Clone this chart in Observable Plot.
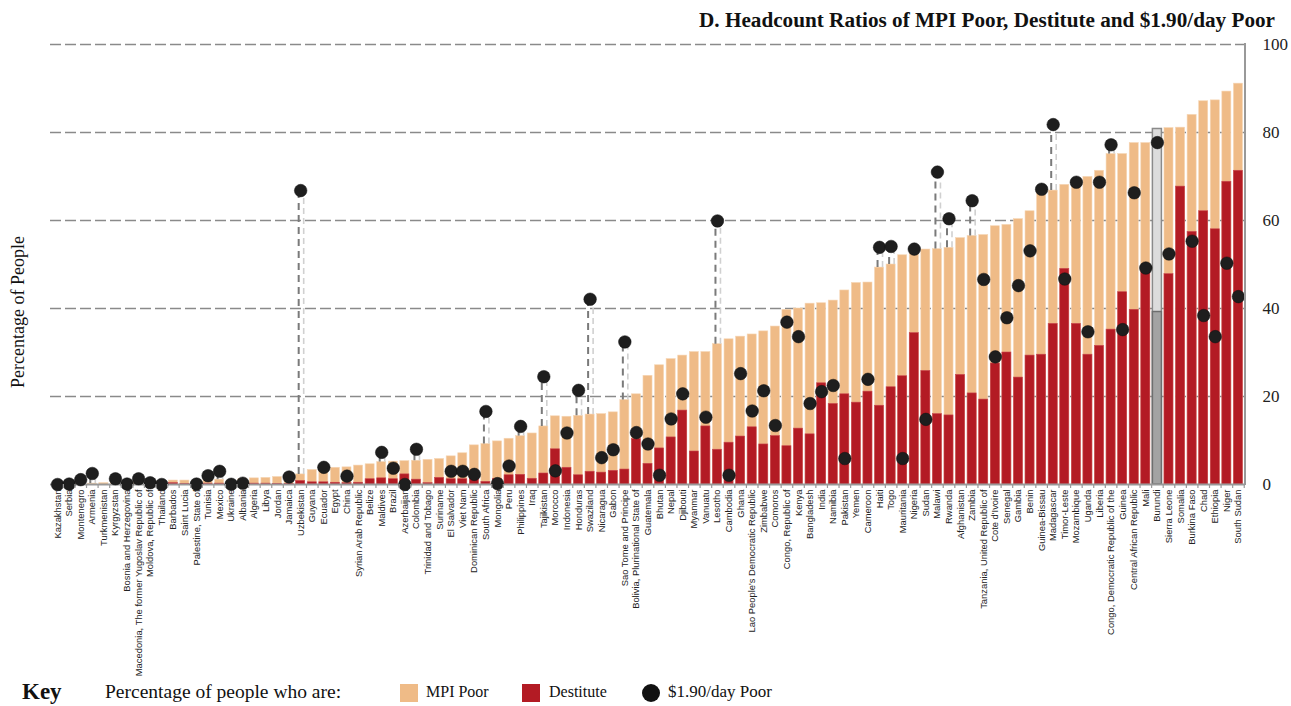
<!DOCTYPE html>
<html>
<head>
<meta charset="utf-8">
<script src="https://cdn.jsdelivr.net/npm/d3@7"></script>
<script src="https://cdn.jsdelivr.net/npm/@observablehq/plot@0.6"></script>
<style>
  html, body { margin: 0; padding: 0; background: #fff; }
  #wrap { position: relative; width: 1291px; height: 706px; overflow: hidden; font-family: "Liberation Serif", "Times New Roman", serif; color: #111; }
  #chart { position: absolute; left: 0; top: 0; }
  #title { position: absolute; right: 16px; top: 8px; font-size: 21.2px; font-weight: bold; white-space: nowrap; }
  #ylab { position: absolute; left: 18px; top: 312px; font-size: 18px; white-space: nowrap; transform: translate(-50%, -50%) rotate(-90deg); }
  #key { position: absolute; left: 0; top: 680px; width: 1291px; height: 26px; font-size: 16px; }
  #key .k { position: absolute; left: 22px; top: -1px; font-size: 23px; font-weight: bold; }
  #key .t { position: absolute; top: 3px; white-space: nowrap; }
  #key .sw { position: absolute; top: 4px; width: 18px; height: 18px; }
  #key .dot { position: absolute; top: 4px; width: 18px; height: 18px; border-radius: 50%; background: #111; }
</style>
</head>
<body>
<div id="wrap">
  <div id="chart"></div>
  <div id="title">D. Headcount Ratios of MPI Poor, Destitute and $1.90/day Poor</div>
  <div id="ylab">Percentage of People</div>
  <div id="key">
    <span class="k">Key</span>
    <span class="t" style="left:105px;top:1px;font-size:19.5px">Percentage of people who are:</span>
    <span class="sw" style="left:400px;background:#efbb87"></span>
    <span class="t" style="left:426px">MPI Poor</span>
    <span class="sw" style="left:522px;background:#b31b24"></span>
    <span class="t" style="left:549px">Destitute</span>
    <span class="dot" style="left:642px"></span>
    <span class="t" style="left:668px;font-size:17px;top:2px">$1.90/day Poor</span>
  </div>
</div>
<script>
const countries = [
  "Kazakhstan","Serbia","Montenegro","Armenia","Turkmenistan","Kyrgyzstan","Bosnia and Herzegovina",
  "Macedonia, The former Yugoslav Republic of","Moldova, Republic of","Thailand","Barbados","Saint Lucia",
  "Palestine, State of","Tunisia","Mexico","Ukraine","Albania","Algeria","Libya","Jordan","Jamaica",
  "Uzbekistan","Guyana","Ecuador","Egypt","China","Syrian Arab Republic","Belize","Maldives","Brazil",
  "Azerbaijan","Colombia","Trinidad and Tobago","Suriname","El Salvador","Viet Nam","Dominican Republic",
  "South Africa","Mongolia","Peru","Philippines","Iraq","Tajikistan","Morocco","Indonesia","Honduras",
  "Swaziland","Nicaragua","Gabon","Sao Tome and Principe","Bolivia, Plurinational State of","Guatemala",
  "Bhutan","Nepal","Djibouti","Myanmar","Vanuatu","Lesotho","Cambodia","Ghana",
  "Lao People's Democratic Republic","Zimbabwe","Comoros","Congo, Republic of","Kenya","Bangladesh",
  "India","Namibia","Pakistan","Yemen","Cameroon","Haiti","Togo","Mauritania","Nigeria","Sudan","Malawi",
  "Rwanda","Afghanistan","Zambia","Tanzania, United Republic of","Cote d'Ivoire","Senegal","Gambia",
  "Benin","Guinea-Bissau","Madagascar","Timor-Leste","Mozambique","Uganda","Liberia",
  "Congo, Democratic Republic of the","Guinea","Central African Republic","Mali","Burundi",
  "Sierra Leone","Somalia","Burkina Faso","Chad","Ethiopia","Niger","South Sudan"
];
const mpiPoor = [
  0.1,0.2,0.3,0.2,0.3,0.4,0.5,0.6,0.5,0.6,0.9,0.9,0.8,1.1,1.1,0.8,1.2,1.4,1.5,1.7,0.9,
  2.3,3.3,3.5,3.8,3.9,4.3,4.6,5.1,5.2,5.3,5.4,5.6,5.8,6.4,7.1,8.9,9.2,9.8,10.4,11.0,11.6,
  13.2,15.5,15.4,15.6,15.9,16.0,16.4,19.2,20.5,24.7,27.1,28.5,29.3,30.1,30.1,31.9,33.0,33.6,
  34.1,34.8,35.9,39.7,40.0,41.1,41.2,41.8,44.1,45.8,45.9,49.3,50.0,52.1,52.8,53.4,53.5,53.8,
  56.0,56.5,56.7,58.7,59.0,60.3,62.1,66.6,66.8,68.1,68.8,69.9,71.3,75.1,75.1,77.6,77.6,80.8,
  81.0,81.1,84.0,87.1,87.3,89.3,91.1
];
const destitute = [
  0.0,0.0,0.0,0.0,0.0,0.0,0.0,0.0,0.0,0.1,0.3,0.1,0.1,0.2,0.2,0.0,0.1,0.2,0.2,0.1,0.1,
  0.8,0.5,0.5,0.4,0.3,0.4,1.2,1.4,1.2,2.3,1.1,0.3,1.5,1.2,1.2,1.6,0.6,1.3,2.1,2.2,1.3,
  2.5,8.0,3.8,2.1,2.9,2.7,3.1,3.4,10.3,4.7,8.2,10.7,16.8,7.5,13.2,7.9,9.5,10.9,
  13.0,9.1,11.0,8.7,12.7,11.4,23.0,18.3,20.5,18.6,21.1,17.9,22.1,24.6,34.4,25.8,16.0,15.7,
  24.9,20.7,19.3,27.5,30.0,24.3,29.3,29.5,36.5,49.0,36.5,29.5,31.5,35.2,43.7,39.7,49.0,39.2,
  47.8,67.7,57.4,62.1,58.0,68.8,71.3
];
const poor190 = [
  0.0,0.1,1.1,2.5,null,1.3,0.1,1.3,0.4,0.0,null,null,0.1,2.0,3.0,0.05,0.3,null,null,null,1.7,
  66.8,null,3.9,null,1.9,null,null,7.3,3.7,0.0,8.0,null,null,3.0,3.0,2.3,16.6,0.2,4.2,13.2,null,
  24.5,3.1,11.7,21.4,42.1,6.1,7.9,32.4,11.8,9.2,2.1,14.9,20.6,null,15.3,59.9,2.1,25.2,
  16.7,21.3,13.4,36.9,33.6,18.4,21.1,22.5,5.9,null,23.9,53.9,54.1,5.9,53.5,14.8,71.0,60.4,
  null,64.5,46.6,29.0,37.9,45.2,53.1,67.1,81.8,46.7,68.7,34.7,68.7,77.2,35.2,66.3,49.2,77.7,
  52.4,null,55.3,38.4,33.6,50.3,42.7
];
const yTicks = [0, 20, 40, 60, 80, 100];
const highlight = "Burundi";

const data = countries.map((c, i) => ({country: c, mpi: mpiPoor[i], dest: destitute[i], pov: poor190[i]}));
const withPov = data.filter(d => d.pov != null);
const above = withPov.filter(d => d.pov > d.mpi);

const sans = "'Liberation Sans Narrow', 'Liberation Sans', Arial, sans-serif";
const serif = "'Liberation Serif', 'Times New Roman', serif";
const W = 1291, H = 660, ML = 50, MR = 46, MT = 44, MB = 176;
const step = (W - ML - MR) / countries.length;

const chart = Plot.plot({
  width: W, height: H,
  marginLeft: ML, marginRight: MR, marginTop: MT, marginBottom: MB,
  style: {background: "transparent", overflow: "visible"},
  x: {type: "band", domain: countries, padding: 0.22, label: null},
  y: {domain: [0, 100], label: null},
  marks: [
    Plot.ruleY(yTicks.filter(t => t > 0), {stroke: "#8a8a8a", strokeWidth: 1.6, strokeDasharray: "11,4"}),
    Plot.barY(data, {x: "country", y: "mpi",
      fill: d => d.country === highlight ? "#dcdcdc" : "#efbb87",
      stroke: d => d.country === highlight ? "#8a8a8a" : "#f6d6b5", strokeWidth: d => d.country === highlight ? 1.5 : 0.6}),
    Plot.barY(data, {x: "country", y: "dest",
      fill: d => d.country === highlight ? "#a3a3a3" : "#b31b24",
      stroke: d => d.country === highlight ? "#6e6e6e" : "#c9474e", strokeWidth: d => d.country === highlight ? 1.5 : 0.6}),
    Plot.ruleX(above, {x: "country", y1: "mpi", y2: "pov", stroke: "#d0d0d0", strokeWidth: 1.6, strokeDasharray: "6,4", dx: 3}),
    Plot.ruleX(above, {x: "country", y1: "mpi", y2: "pov", stroke: "#7a7a7a", strokeWidth: 2, strokeDasharray: "7,5", dx: -2}),
    Plot.ruleY([0], {stroke: "#999", strokeWidth: 2}),
    Plot.dot(withPov, {x: "country", y: "pov", r: 6.3, fill: "#1e1e1e", stroke: "#111", strokeWidth: 0.5}),
    Plot.axisX({tickSize: 4, text: null, dx: step / 2, stroke: "#999", strokeWidth: 1.2}),
    Plot.axisX({tickSize: 0, tickPadding: 5, tickRotate: -90, fontSize: 9.4, fontFamily: sans, fill: "#222", label: null}),
    Plot.axisY({anchor: "right", ticks: yTicks, tickSize: 0, tickPadding: 17, fontSize: 17, fontFamily: serif, fill: "#222", label: null})
  ]
});
document.getElementById("chart").appendChild(chart);

// right-hand axis line
const xr = chart.scale("x").range;
const yr = chart.scale("y").range;
d3.select(chart).append("line")
  .attr("x1", xr[1]).attr("x2", xr[1])
  .attr("y1", yr[0] + 1).attr("y2", yr[1] - 1)
  .attr("stroke", "#999").attr("stroke-width", 2);
</script>
</body>
</html>
